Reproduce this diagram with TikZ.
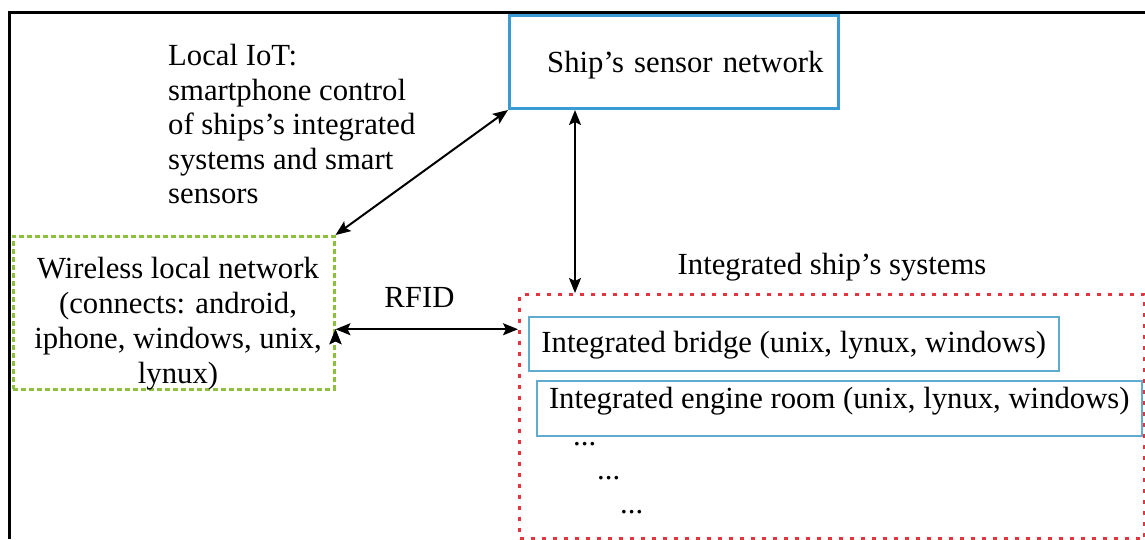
\documentclass[tikz,border=0pt]{standalone}
\usepackage{fontspec}
\setmainfont{Liberation Serif}
\usetikzlibrary{arrows.meta,positioning}
\definecolor{sensorblue}{RGB}{58,155,212}
\definecolor{sysblue}{RGB}{95,172,208}
\definecolor{wlangreen}{RGB}{141,192,62}
\definecolor{shipred}{RGB}{228,52,62}
\begin{document}
\begin{tikzpicture}[x=1pt, y=-1pt, font=\fontsize{30.7}{35}\selectfont,
  link/.style={draw, <->, >={Stealth[length=15pt,width=12pt,inset=3pt]}, line width=2pt},
  sensor box/.style={draw=sensorblue, line width=3pt, inner xsep=15pt, inner ysep=6pt, align=right},
  sys box/.style={draw=sysblue, line width=1.6pt, inner xsep=0pt, inner ysep=6pt},
  wlan box/.style={draw=wlangreen, line width=2.5pt, dash pattern=on 5pt off 3pt},
  ships box/.style={draw=shipred, line width=3pt, dash pattern=on 4pt off 7pt},
  plain text/.style={inner sep=0pt}]
\useasboundingbox (0,0) rectangle (1145,539);
\draw[line width=3pt] (9,539) -- (9,12) -- (1145,12);
% boxes
\node [sensor box, anchor=north west, text width=299pt, text height=51pt, text depth=30pt] (sensor) at (508,14) {Ship’s sensor network};
\node [wlan box, anchor=north west, minimum width=321pt, minimum height=153pt] (wlan) at (12,235) {};
\node [ships box, anchor=north west, minimum width=625pt, minimum height=244pt] (ships) at (518,293) {};
\node [sys box, anchor=north west, minimum width=530pt, text height=30pt, text depth=12pt] (bridge) at (528,316) {Integrated bridge (unix, lynux, windows)};
\node [sys box, anchor=north west, minimum width=605pt, text height=22pt, text depth=21pt] (engine) at (536,380) {Integrated engine room (unix, lynux, windows)};
% texts
\begin{scope}[every node/.style={plain text}]
\node [anchor=north west, align=left, font=\fontsize{30.7}{34.5}\selectfont] (iot) at (168,44) {Local IoT:\\smartphone control\\of ships’s integrated\\systems and smart\\sensors};
\node [anchor=north, align=center] (wlantext) at (178,257) {Wireless local network\\(connects: android,\\iphone, windows, unix,\\lynux)};
\node [above=12pt of ships.north] (shipslabel) {Integrated ship’s systems};
\node [anchor=base west] (dots1) at (573,445) {...};
\node [anchor=base west] (dots2) at (597,479) {...};
\node [anchor=base west] (dots3) at (620,513) {...};
\end{scope}
\coordinate (sensorfoot) at ([xshift=67pt]sensor.south west);
\path [link]
	(wlan.north east) edge (sensor.south west)
	(sensorfoot) edge (sensorfoot |- ships.north)
	([yshift=-16.5pt]wlan.east) edge node [plain text, pos=0.46, above=21pt] (rfid) {RFID} ([yshift=-16.5pt]wlan.east -| ships.west)
	;
\end{tikzpicture}
\end{document}
